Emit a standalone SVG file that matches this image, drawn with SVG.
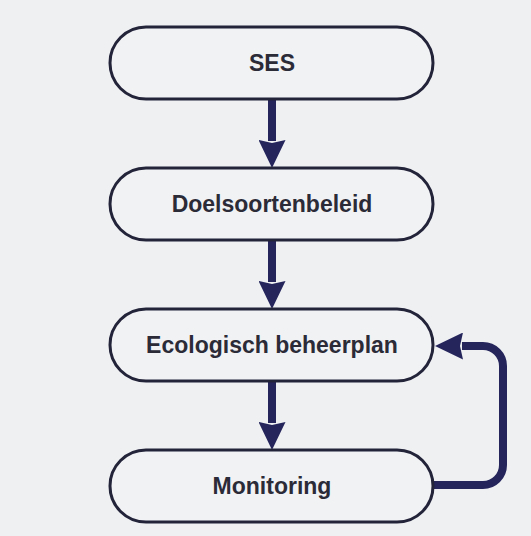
<svg xmlns="http://www.w3.org/2000/svg" width="531" height="536" viewBox="0 0 531 536">
  <style>
    .node rect { fill: #f1f2f4; stroke: #23233a; stroke-width: 3; }
    .node text { font-family: "Liberation Sans", Arial, sans-serif; font-weight: bold; font-size: 23px; fill: #2b2b38; text-anchor: middle; }
    .conn { fill: none; stroke: #25255c; stroke-width: 8; }
  </style>
  <defs>
    <marker id="head" markerUnits="userSpaceOnUse" viewBox="0 0 28 27" refX="1" refY="13.5" markerWidth="28" markerHeight="27" orient="auto">
      <path d="M0,0 L28,13.5 L0,27 L3,13.5 z" fill="#25255c"/>
    </marker>
  </defs>
  <rect x="0" y="0" width="531" height="536" fill="#eef0f2"/>
  <g id="connectors">
    <line class="conn" x1="272" y1="99" x2="272" y2="141" marker-end="url(#head)"/>
    <line class="conn" x1="272" y1="240" x2="272" y2="282" marker-end="url(#head)"/>
    <line class="conn" x1="272" y1="381" x2="272" y2="423" marker-end="url(#head)"/>
    <path class="conn" d="M433,485 H483 A20,20 0 0 0 503,465 V366 A20,20 0 0 0 483,346 H462" marker-end="url(#head)"/>
  </g>
  <g id="ses" class="node">
    <rect x="110" y="27" width="323" height="72" rx="36" ry="36"/>
    <text x="272" y="71">SES</text>
  </g>
  <g id="doelsoortenbeleid" class="node">
    <rect x="110" y="168" width="323" height="72" rx="36" ry="36"/>
    <text x="272" y="212">Doelsoortenbeleid</text>
  </g>
  <g id="ecologisch-beheerplan" class="node">
    <rect x="110" y="309" width="323" height="72" rx="36" ry="36"/>
    <text x="272" y="353">Ecologisch beheerplan</text>
  </g>
  <g id="monitoring" class="node">
    <rect x="110" y="450" width="323" height="72" rx="36" ry="36"/>
    <text x="272" y="494">Monitoring</text>
  </g>
</svg>
